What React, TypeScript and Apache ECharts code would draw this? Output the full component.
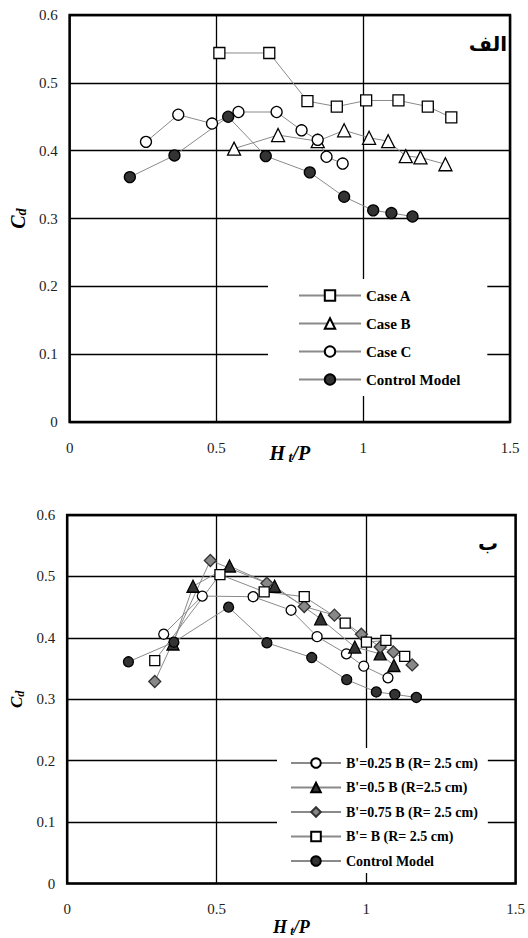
import React, { useEffect, useRef } from "react";
import * as echarts from "echarts";

// ---- Data ----
const xTickValues = [0, 0.5, 1, 1.5];
const yTickValues = [0, 0.1, 0.2, 0.3, 0.4, 0.5, 0.6];

// Top chart (الف)
const caseAX = [0.51, 0.68, 0.81, 0.91, 1.01, 1.12, 1.22, 1.30];
const caseAY = [0.544, 0.544, 0.473, 0.465, 0.474, 0.474, 0.465, 0.449];
const caseBX = [0.56, 0.71, 0.845, 0.935, 1.02, 1.085, 1.145, 1.195, 1.28];
const caseBY = [0.403, 0.423, 0.414, 0.43, 0.419, 0.414, 0.392, 0.39, 0.38];
const caseCX = [0.26, 0.37, 0.485, 0.575, 0.705, 0.79, 0.845, 0.875, 0.93];
const caseCY = [0.413, 0.453, 0.44, 0.457, 0.457, 0.43, 0.416, 0.391, 0.381];
const controlX = [0.205, 0.357, 0.54, 0.668, 0.818, 0.935, 1.034, 1.096, 1.168];
const controlY = [0.361, 0.393, 0.45, 0.392, 0.368, 0.332, 0.312, 0.308, 0.303];

// Bottom chart (ب)
const b025X = [0.323, 0.452, 0.622, 0.749, 0.836, 0.934, 0.992, 1.073];
const b025Y = [0.406, 0.468, 0.467, 0.445, 0.402, 0.374, 0.354, 0.335];
const b05X = [0.354, 0.421, 0.543, 0.694, 0.848, 0.962, 1.047, 1.093];
const b05Y = [0.39, 0.484, 0.517, 0.484, 0.431, 0.385, 0.374, 0.355];
const b075X = [0.293, 0.479, 0.668, 0.793, 0.894, 0.984, 1.047, 1.091, 1.154];
const b075Y = [0.329, 0.526, 0.489, 0.451, 0.437, 0.406, 0.385, 0.377, 0.356];
const bBX = [0.293, 0.511, 0.659, 0.793, 0.93, 1.001, 1.066, 1.129];
const bBY = [0.363, 0.503, 0.475, 0.467, 0.424, 0.393, 0.396, 0.37];

const topNames = ["Case A", "Case B", "Case C", "Control Model"];
const bottomNames = [
  "B'=0.25 B (R= 2.5 cm)",
  "B'=0.5 B (R=2.5 cm)",
  "B'=0.75 B (R= 2.5 cm)",
  "B'= B (R= 2.5 cm)",
  "Control Model",
];

const zip = (xs: number[], ys: number[]) => xs.map((x, i) => [x, ys[i]]);

const serif = "'Liberation Serif', 'Times New Roman', serif";

export default function App() {
  const ref = useRef<HTMLDivElement>(null);

  useEffect(() => {
    if (!ref.current) return;
    const chart = echarts.init(ref.current, null, { renderer: "svg" });

    const lineStyle = { color: "#8a8a8a", width: 1 };
    const mk = (
      name: string,
      data: number[][],
      idx: number,
      symbol: string,
      size: number,
      fill: string,
      border = "#000"
    ) => ({
      type: "line",
      name,
      xAxisIndex: idx,
      yAxisIndex: idx,
      data,
      symbol,
      symbolSize: size,
      showAllSymbol: true,
      lineStyle,
      itemStyle: { color: fill, borderColor: border, borderWidth: 1.3, opacity: 1 },
      emphasis: { disabled: true },
      z: 3,
    });

    const xAxisBase = (i: number, titleSize: number, gap: number, moveOverlap: boolean) => ({
      type: "value",
      gridIndex: i,
      min: xTickValues[0],
      max: xTickValues[xTickValues.length - 1],
      interval: 0.5,
      axisLine: { show: false },
      axisTick: { show: false },
      splitLine: { show: true, lineStyle: { color: "#000", width: 1.3 } },
      axisLabel: { fontFamily: serif, fontSize: 15, color: "#222", margin: 18 },
      name: "{H|H}{t| t}{P|/P}",
      nameLocation: "middle",
      nameGap: gap,
      nameMoveOverlap: moveOverlap,
      nameTextStyle: {
        rich: {
          H: { fontFamily: serif, fontSize: titleSize, fontWeight: "bold", fontStyle: "italic", color: "#000" },
          t: { fontFamily: serif, fontSize: titleSize * 0.7, fontWeight: "bold", fontStyle: "italic", color: "#000", padding: [8, 0, 0, 0] },
          P: { fontFamily: serif, fontSize: titleSize, fontWeight: "bold", fontStyle: "italic", color: "#000" },
        },
      },
    });

    const yAxisBase = (i: number, titleSize: number, gap: number) => ({
      type: "value",
      gridIndex: i,
      min: yTickValues[0],
      max: yTickValues[yTickValues.length - 1],
      interval: 0.1,
      axisLine: { show: false },
      axisTick: { show: false },
      splitLine: { show: true, lineStyle: { color: "#000", width: 1.3 } },
      axisLabel: { fontFamily: serif, fontSize: 15, color: "#222", margin: 12 },
      name: "{C|C}{d|d}",
      nameLocation: "middle",
      nameRotate: 90,
      nameGap: gap,
      nameTextStyle: {
        rich: {
          C: { fontFamily: serif, fontSize: titleSize, fontWeight: "bold", fontStyle: "italic", color: "#000" },
          d: { fontFamily: serif, fontSize: titleSize * 0.72, fontWeight: "bold", fontStyle: "italic", color: "#000", padding: [6, 0, 0, 0] },
        },
      },
    });

    const option: any = {
      animation: false,
      backgroundColor: "#fff",
      grid: [
        { left: 69, top: 15, width: 441, height: 407, show: true, borderColor: "#000", borderWidth: 2.5, backgroundColor: "transparent" },
        { left: 67, top: 515, width: 450, height: 372, show: true, borderColor: "#000", borderWidth: 2.5, backgroundColor: "transparent" },
      ],
      xAxis: [xAxisBase(0, 20, 20, false), xAxisBase(1, 18, 32, true)],
      yAxis: [yAxisBase(0, 20, 22), yAxisBase(1, 17, 20)],
      legend: [
        {
          data: topNames,
          orient: "vertical",
          left: 268,
          top: 279,
          backgroundColor: "#fff",
          padding: [9, 27, 9, 30],
          itemWidth: 62,
          itemHeight: 13,
          itemGap: 13,
          selectedMode: false,
          textStyle: { fontFamily: serif, fontSize: 15, fontWeight: "bold", color: "#000" },
          z: 5,
        },
        {
          data: bottomNames,
          orient: "vertical",
          left: 277,
          top: 748,
          backgroundColor: "#fff",
          padding: [8, 10, 5, 13],
          itemWidth: 50,
          itemHeight: 12,
          itemGap: 10.5,
          selectedMode: false,
          textStyle: { fontFamily: serif, fontSize: 14, fontWeight: "bold", color: "#000" },
          z: 5,
        },
      ],
      graphic: [
        {
          type: "text",
          x: 507,
          y: 44,
          z: 10,
          style: { text: "الف", font: "bold 20px 'DejaVu Sans'", fill: "#000", align: "right", verticalAlign: "middle" },
        },
        {
          type: "text",
          x: 498,
          y: 543,
          z: 10,
          style: { text: "ب", font: "bold 20px 'DejaVu Sans'", fill: "#000", align: "right", verticalAlign: "middle" },
        },
      ],
      series: [
        mk(topNames[0], zip(caseAX, caseAY), 0, "rect", 11, "#fff"),
        mk(topNames[1], zip(caseBX, caseBY), 0, "triangle", 13, "#fff"),
        mk(topNames[2], zip(caseCX, caseCY), 0, "circle", 11, "#fff"),
        mk(topNames[3], zip(controlX, controlY), 0, "circle", 11, "#333"),
        mk(bottomNames[0], zip(b025X, b025Y), 1, "circle", 10, "#fff"),
        mk(bottomNames[1], zip(b05X, b05Y), 1, "triangle", 12, "#333"),
        mk(bottomNames[2], zip(b075X, b075Y), 1, "diamond", 12, "#888", "#333"),
        mk(bottomNames[3], zip(bBX, bBY), 1, "rect", 10, "#fff"),
        mk(bottomNames[4], zip(controlX, controlY), 1, "circle", 10, "#333"),
      ],
    };

    chart.setOption(option);
    return () => chart.dispose();
  }, []);

  return (
    <div
      ref={ref}
      style={{ position: "absolute", left: 0, top: 0, width: 528, height: 938, background: "#fff" }}
    />
  );
}
